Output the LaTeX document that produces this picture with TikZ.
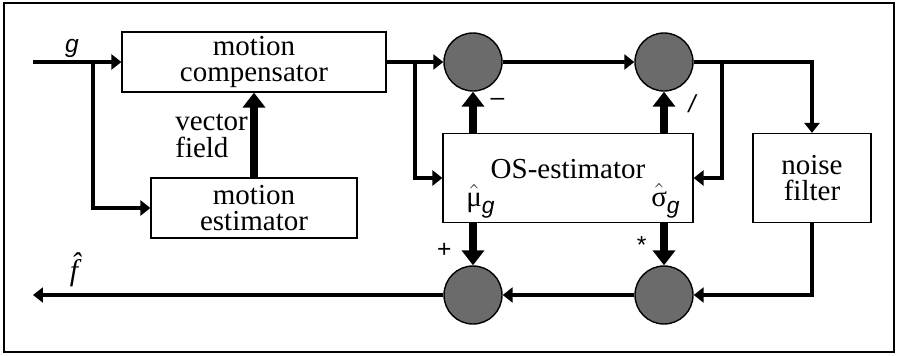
\documentclass[tikz,border=0pt]{standalone}
\usepackage{fontspec}
\setmainfont{Liberation Serif}
\setsansfont{Liberation Sans}
\usetikzlibrary{arrows.meta,positioning,calc}

\newcommand{\gsub}{\raisebox{-4.5pt}{\sffamily\itshape\fontsize{13}{13}\selectfont g}}

\begin{document}
\begin{tikzpicture}[
    x=0.02cm, y=-0.02cm,
    font=\fontsize{16.5}{15}\selectfont,
    blk/.style={draw, line width=0.7pt, fill=white, align=center, inner sep=2pt},
    op/.style={draw, circle, line width=0.8pt, fill=black!58, minimum size=1.16cm, inner sep=0pt},
    sig/.style={line width=2.3pt, -{Triangle[length=2mm,width=3mm]}},
    bus/.style={line width=4pt, -{Triangle[length=3mm,width=4.4mm]}},
    var/.style={font=\sffamily\itshape\fontsize{14}{14}\selectfont, inner sep=0pt},
    sgn/.style={font=\sffamily\fontsize{14}{14}\selectfont, inner sep=0pt}
]
\useasboundingbox (0,0) rectangle (899,355);
\draw[line width=1.1pt] (4,3) rectangle (894,352);
\node[blk, minimum width=5.28cm, minimum height=1.2cm] (comp) at (254,62) {motion\\compensator};
\node[blk, minimum width=4.12cm, minimum height=1.2cm] (est) at (254,208) {motion\\estimator};
\node[blk, minimum width=5cm, minimum height=1.78cm] (os) at (568,178) {};
\node[blk, minimum width=2.36cm, minimum height=1.78cm] (nf) at (812,178) {noise\\filter};
\node[anchor=base, inner sep=0pt] (ostxt) at (568,178) {OS-estimator};
\node[anchor=base west, inner sep=0pt] (mu) at (466,206) {$\hat{\mbox{μ}}$\gsub};
\node[anchor=base west, inner sep=0pt] (sd) at (651,206) {$\hat{\mbox{σ}}$\gsub};
\node[op] (c1) at (473,62) {};
\node[op] (c2) at (664,62) {};
\node[op] (c3) at (473,295) {};
\node[op] (c4) at (664,295) {};
\node[anchor=north west, align=left, inner sep=0pt] (vf) at (175,114) {vector\\field};
\node[var, anchor=base] (g) at (72,52) {g};
\node[anchor=base, inner sep=0pt, font=\itshape\fontsize{17}{17}\selectfont] (fhat) at (74,280) {\^{f}};
\coordinate (gin) at (33,62);
\coordinate (fout) at (33,295);
\coordinate (j1) at (93,62);
\coordinate (j2) at (415,62);
\coordinate (j3) at (722,62);
\draw[sig] (gin) -- (comp);
\draw[sig] (j1) |- (est);
\draw[bus] (est) -- (comp);
\draw[sig] (comp) -- (c1);
\draw[sig] (j2) |- (os);
\draw[sig] (c1) -- (c2);
\draw[sig] (c2) -| (nf);
\draw[sig] (j3) |- (os);
\draw[bus] (os.north -| c1) -- node[sgn, right=0.28cm, pos=0.75] {–} (c1);
\draw[bus] (os.north -| c2) -- node[sgn, right=0.42cm, pos=0.7] {\itshape /} (c2);
\draw[bus] (os.south -| c3) -- node[sgn, left=0.36cm, pos=0.64] {+} (c3);
\draw[bus] (os.south -| c4) -- node[sgn, left=0.28cm, pos=0.52] {*} (c4);
\draw[sig] (nf) |- (c4);
\draw[sig] (c4) -- (c3);
\draw[sig] (c3) -- (fout);
\end{tikzpicture}
\end{document}
